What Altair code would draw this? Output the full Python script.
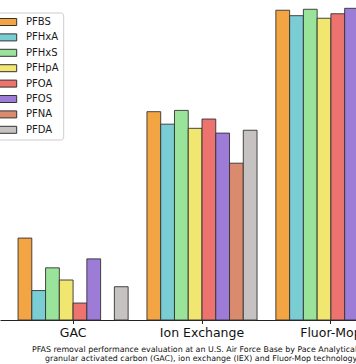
import altair as alt
import pandas as pd

groups = ["GAC", "Ion Exchange", "Fluor-Mop"]
compounds = ["PFBS", "PFHxA", "PFHxS", "PFHpA", "PFOA", "PFOS", "PFNA", "PFDA"]
gac = [25.6, 9.2, 16.3, 12.5, 5.3, 19.1, None, 10.4]
iex = [65.1, 61.2, 65.5, 59.9, 62.8, 58.4, 49.0, 59.3]
fluor = [96.8, 95.1, 97.1, 94.3, 95.7, 97.4, 96.5, 96.0]
colors = ["#F3A443", "#7ACDD3", "#9AE39B", "#F1E66F", "#EC736E",
          "#9C7CD7", "#DB8B6D", "#C7C2C2"]
caption1 = "PFAS removal performance evaluation at an U.S. Air Force Base by Pace Analytical for"
caption2 = "granular activated carbon (GAC), ion exchange (IEX) and Fluor-Mop technology."

rows = []
for g, vals in zip(groups, [gac, iex, fluor]):
    for c, v in zip(compounds, vals):
        rows.append({"group": g, "compound": c, "value": v})
df = pd.DataFrame(rows)

FONT = "DejaVu Sans"

bars = alt.Chart(df).mark_bar(
    stroke="#333333", strokeWidth=1, strokeOpacity=0.9, opacity=1
).encode(
    x=alt.X("group:N", sort=groups,
            scale=alt.Scale(range=[0, 404], paddingInner=0.146, paddingOuter=0.14),
            axis=alt.Axis(title=None, labelAngle=0, labelFont=FONT, labelFontSize=12.5,
                          labelColor="#111111", labelPadding=3, tickSize=3.5,
                          tickColor="#222222", tickWidth=1, domainColor="#222222",
                          domainWidth=1, labelBound=False, labelOverlap=False,
                          labelFlush=False, grid=False)),
    xOffset=alt.XOffset("compound:N", sort=compounds,
                        scale=alt.Scale(paddingInner=0, paddingOuter=0)),
    y=alt.Y("value:Q", scale=alt.Scale(domain=[0, 100], nice=False), axis=None),
    color=alt.Color("compound:N", sort=compounds,
                    scale=alt.Scale(domain=compounds, range=colors),
                    legend=alt.Legend(title=None, orient="none", legendX=-2.8, legendY=12.5,
                                      direction="vertical", padding=4,
                                      fillColor="white", strokeColor="#cccccc",
                                      cornerRadius=3,
                                      symbolType="M-2,-0.7H2V0.7H-2Z", symbolSize=100,
                                      symbolStrokeColor="#333333", symbolStrokeWidth=1,
                                      symbolOpacity=1,
                                      labelFont=FONT, labelFontSize=10,
                                      labelColor="#1a1a1a", labelOffset=13.8,
                                      rowPadding=4.4)),
)

cap1 = alt.Chart(pd.DataFrame({"t": [caption1]})).mark_text(
    align="left", baseline="middle", font=FONT, fontSize=7.9, color="#111111"
).encode(text="t:N", x=alt.value(32), y=alt.value(349.5))

cap2 = alt.Chart(pd.DataFrame({"t": [caption2]})).mark_text(
    align="left", baseline="middle", font=FONT, fontSize=7.9, color="#111111"
).encode(text="t:N", x=alt.value(45), y=alt.value(358.5))

chart = alt.layer(bars, cap1, cap2).properties(
    width=356, height=320,
    autosize=alt.AutoSizeParams(type="none"),
    padding={"left": 0, "top": 0, "right": 0, "bottom": 44},
    background="white",
).configure_view(stroke=None)

chart.save("out.html", embed_options={"renderer": "svg", "actions": False})
